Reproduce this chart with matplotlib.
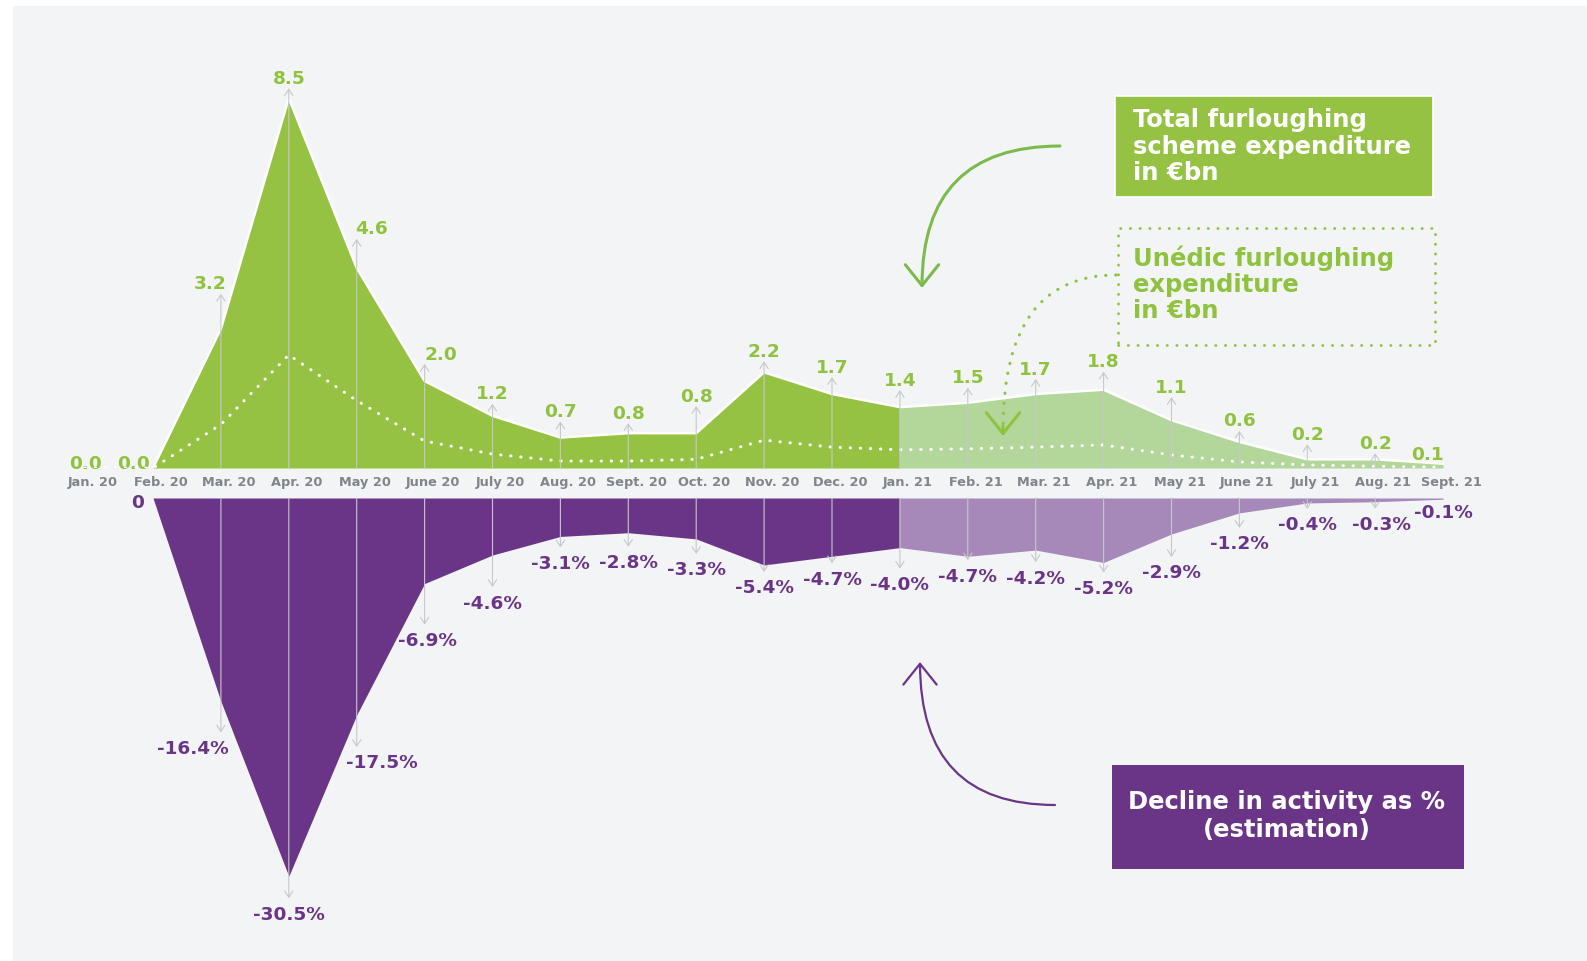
import matplotlib
matplotlib.use("Agg")
import matplotlib.pyplot as plt
from matplotlib.patches import FancyArrowPatch, Rectangle
import numpy as np

months = ["Jan. 20", "Feb. 20", "Mar. 20", "Apr. 20", "May 20", "June 20", "July 20",
          "Aug. 20", "Sept. 20", "Oct. 20", "Nov. 20", "Dec. 20", "Jan. 21", "Feb. 21",
          "Mar. 21", "Apr. 21", "May 21", "June 21", "July 21", "Aug. 21", "Sept. 21"]
# total furloughing scheme expenditure, EUR bn
total_spend = [0.0, 0.0, 3.2, 8.5, 4.6, 2.0, 1.2, 0.7, 0.8, 0.8, 2.2, 1.7, 1.4,
               1.5, 1.7, 1.8, 1.1, 0.6, 0.2, 0.2, 0.1]
# Unedic share of the expenditure, EUR bn (no labels in the chart)
unedic_spend = [0.0, 0.0, 1.0, 2.6, 1.55, 0.62, 0.32, 0.16, 0.16, 0.2, 0.64, 0.48, 0.42,
                0.44, 0.48, 0.53, 0.3, 0.14, 0.07, 0.04, 0.02]
# decline in activity, % (estimation)
activity = [np.nan, 0, -16.4, -30.5, -17.5, -6.9, -4.6, -3.1, -2.8, -3.3, -5.4, -4.7, -4.0,
            -4.7, -4.2, -5.2, -2.9, -1.2, -0.4, -0.3, -0.1]
first_estimate = 12   # Jan. 21: from here on the values are projections

# hand placement of the value labels (pixels from the point: label centre)
top_lab_dx = [0, -20, -11, 0, 15, 16, 0, 0, 0, 0, 0, 0, 0, 0, 0, 0, 0, 0, 0, 0, -16]
top_lab_dy = [6, 6, 46, 21, 40, 28, 23, 27, 21, 38, 22, 28, 28, 26, 26, 29, 34, 22, 26, 17, 10]
bot_lab_dx = [0, -15, -28, 0, 25, 3, 0, 0, 0, 0, 0, 0, 0, 0, 0, 0, 0, 0, 0, 6, 0]
bot_lab_dy = [0, 4, 46, 37, 47, 56, 47, 26, 29, 30, 22, 22, 36, 19, 27, 25, 38, 30, 21, 22, 12]

GREEN = "#95c243"
GREEN_LIGHT = "#b3d79b"
GREEN_TEXT = "#8fc23f"
GREEN_ARROW = "#7cba4c"
PURPLE = "#6a3587"
PURPLE_LIGHT = "#a688b9"
GRAY = "#c6c8cc"
MONTH_GRAY = "#80848b"
BG = "#f3f4f6"

W, H = 1587, 961
fig = plt.figure(figsize=(W / 100, H / 100), dpi=100)
fig.patch.set_facecolor("white")


def fx(px):
    return px / W


def fy(py):
    return 1 - py / H


fig.add_artist(Rectangle((fx(13), 0), (W - 13) / W, (H - 6) / H,
                         facecolor=BG, edgecolor="none", transform=fig.transFigure, zorder=-5))

XS = 67.9          # pixels per month
X_FEB = 153        # pixel position of Feb. 20
x_left = 1 - X_FEB / XS
TOP_BASE, BOT_BASE = 468, 498
TOP_S, BOT_S = 43.5, 12.4   # pixels per unit

ax_top = fig.add_axes([0, fy(TOP_BASE), 1, TOP_BASE / H])
ax_top.set_xlim(x_left, x_left + W / XS)
ax_top.set_ylim(0, TOP_BASE / TOP_S)
ax_bot = fig.add_axes([0, 0, 1, (H - BOT_BASE) / H])
ax_bot.set_xlim(x_left, x_left + W / XS)
ax_bot.set_ylim(-(H - BOT_BASE) / BOT_S, 0)
for a in (ax_top, ax_bot):
    a.axis("off")
    a.patch.set_alpha(0)

x = np.arange(len(months))
tot = np.array(total_spend)
act = np.array(activity)
n = len(months)
k = first_estimate

# expenditure area
ax_top.fill_between(x[1:k + 1], tot[1:k + 1], color=GREEN, lw=0)
ax_top.fill_between(x[k:], tot[k:], color=GREEN_LIGHT, lw=0)
ax_top.plot(x[1:], tot[1:], color="white", lw=1.8, solid_joinstyle="round", zorder=3)
ax_top.plot(x, unedic_spend, color="white", lw=2.2, linestyle=(0, (0.1, 3.2)),
            dash_capstyle="round", zorder=4)

# activity area
ax_bot.fill_between(x[1:k + 1], act[1:k + 1], color=PURPLE, lw=0)
ax_bot.fill_between(x[k:], act[k:], color=PURPLE_LIGHT, lw=0)

arrow_kw = dict(arrowstyle="->,head_length=0.45,head_width=0.3", color=GRAY, lw=0.8,
                shrinkA=0, shrinkB=0)
for i in range(2, n - 1):
    tip_top = tot[i] + (top_lab_dy[i] - 11) / TOP_S
    ax_top.annotate("", xy=(i, tip_top), xytext=(i, 0), arrowprops=arrow_kw, zorder=5)
    tip_bot = act[i] - (bot_lab_dy[i] - 15) / BOT_S
    ax_bot.annotate("", xy=(i, tip_bot), xytext=(i, 0), arrowprops=arrow_kw, zorder=5)

lab_kw = dict(textcoords="offset pixels", ha="center", va="baseline", fontsize=13.3,
              fontweight="bold")
for i, v in enumerate(total_spend):
    ax_top.annotate(f"{v:.1f}", (i, v), xytext=(top_lab_dx[i], top_lab_dy[i] - 6.5),
                    color=GREEN_TEXT, **lab_kw)

for i, v in enumerate(activity):
    if np.isnan(v):
        continue
    txt = "0" if v == 0 else f"{v:.1f}%"
    ax_bot.annotate(txt, (i, v), xytext=(bot_lab_dx[i], -bot_lab_dy[i] - 6.5),
                    color=PURPLE, **lab_kw)

# month labels in the band between the two areas
for i, m in enumerate(months):
    px = X_FEB + (i - 1) * XS + 8
    fig.text(fx(px), fy(483), m, ha="center", va="center", fontsize=9.3,
             fontweight="bold", color=MONTH_GRAY)

# legend boxes
fig.add_artist(Rectangle((fx(1115), fy(197)), (1433 - 1115) / W, (197 - 96) / H,
                         facecolor=GREEN, edgecolor="white", lw=1.2,
                         transform=fig.transFigure))
for line, py in zip(["Total furloughing", "scheme expenditure", "in €bn"], [120, 147, 173]):
    fig.text(fx(1133), fy(py), line, ha="left", va="center", fontsize=17.5,
             fontweight="bold", color="white")

box = Rectangle((fx(1118), fy(345)), (1435 - 1118) / W, (345 - 228) / H,
                facecolor="none", edgecolor=GREEN_TEXT, lw=2, linestyle=(0, (0.1, 3.4)),
                transform=fig.transFigure)
box.set_capstyle("round")
fig.add_artist(box)
for line, py in zip(["Unédic furloughing", "expenditure", "in €bn"], [258, 285, 311]):
    fig.text(fx(1133), fy(py), line, ha="left", va="center", fontsize=17.5,
             fontweight="bold", color=GREEN_TEXT)

fig.add_artist(Rectangle((fx(1112), fy(869)), (1464 - 1112) / W, (869 - 765) / H,
                         facecolor=PURPLE, edgecolor="none", transform=fig.transFigure))
for line, py in zip(["Decline in activity as %", "(estimation)"], [802, 830]):
    fig.text(fx(1287), fy(py), line, ha="center", va="center", fontsize=17.5,
             fontweight="bold", color="white")

# curved pointers towards the areas
fig.add_artist(FancyArrowPatch((fx(1060), fy(146)), (fx(922), fy(288)),
                               connectionstyle="angle3,angleA=180,angleB=90",
                               arrowstyle="->,head_length=0.75,head_width=0.6",
                               mutation_scale=20, color=GREEN_ARROW, lw=2.2,
                               transform=fig.transFigure, shrinkA=0, shrinkB=0))
fig.add_artist(FancyArrowPatch((fx(1055), fy(805)), (fx(920), fy(662)),
                               connectionstyle="angle3,angleA=180,angleB=90",
                               arrowstyle="->,head_length=0.75,head_width=0.6",
                               mutation_scale=20, color=PURPLE, lw=1.6,
                               transform=fig.transFigure, shrinkA=0, shrinkB=0))
dotted = FancyArrowPatch((fx(1116), fy(275)), (fx(1003), fy(430)),
                         connectionstyle="angle3,angleA=180,angleB=90",
                         arrowstyle="-", color=GREEN_TEXT, lw=2.2,
                         linestyle=(0, (0.1, 3.2)), transform=fig.transFigure,
                         shrinkA=0, shrinkB=0)
dotted.set_capstyle("round")
fig.add_artist(dotted)
fig.add_artist(FancyArrowPatch((fx(1003), fy(426)), (fx(1003), fy(436)),
                               arrowstyle="->,head_length=0.75,head_width=0.6",
                               mutation_scale=20, color=GREEN_TEXT, lw=2.2,
                               transform=fig.transFigure, shrinkA=0, shrinkB=0))

fig.savefig("out.png", dpi=100, facecolor=fig.get_facecolor())
